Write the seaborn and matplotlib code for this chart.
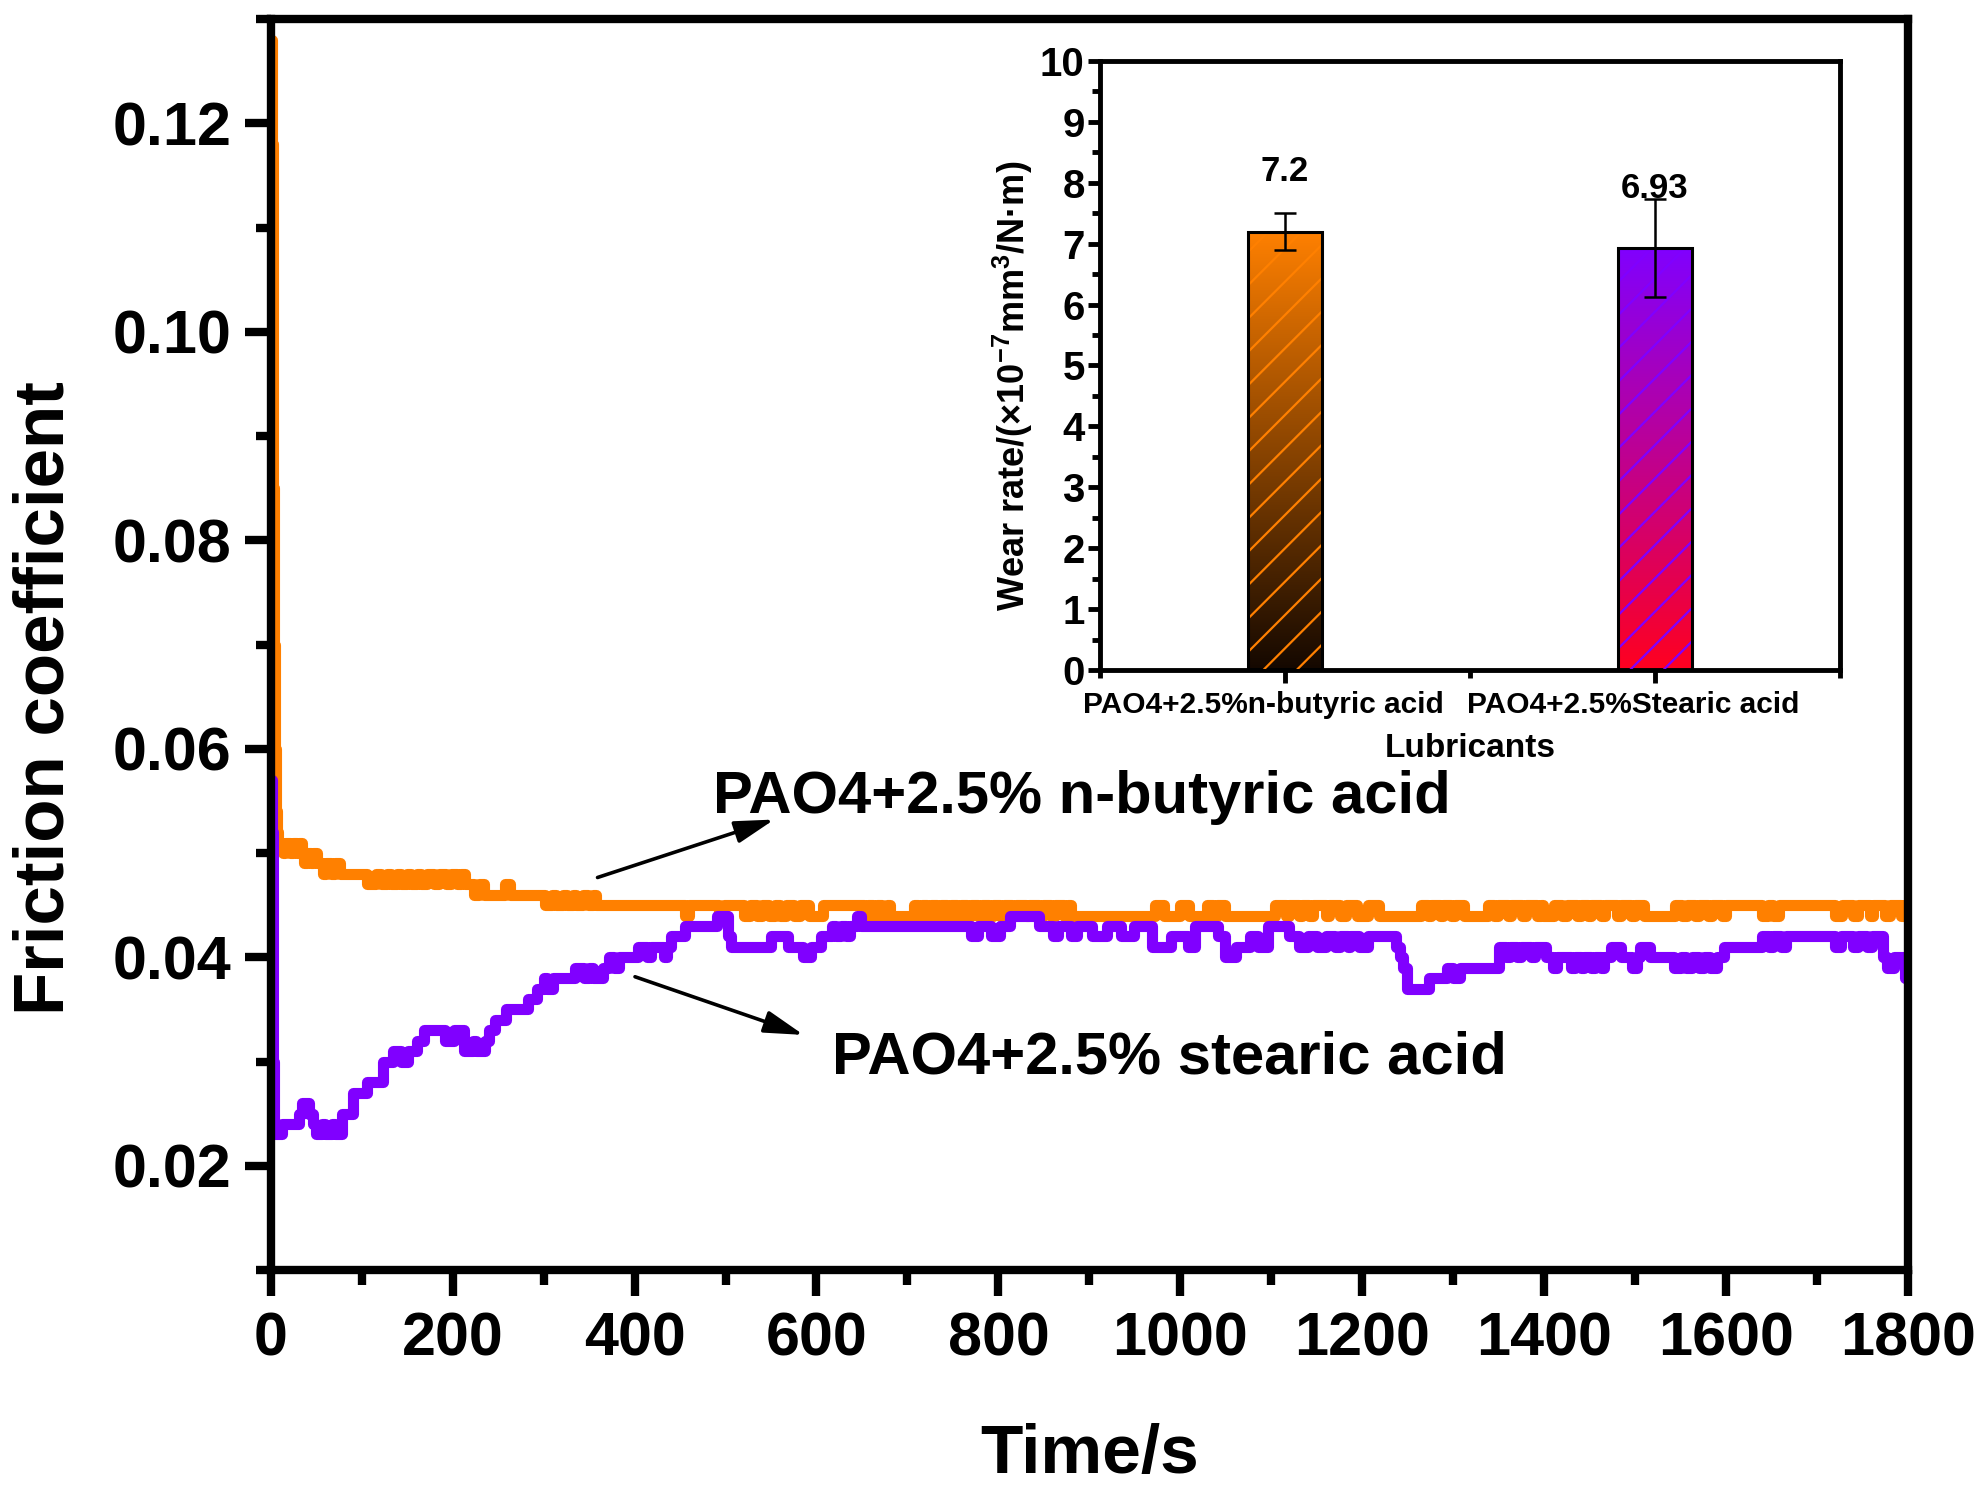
import numpy as np
import pandas as pd
import matplotlib
matplotlib.use("Agg")
import matplotlib.pyplot as plt
import seaborn as sns
from matplotlib.patches import Rectangle
from matplotlib.transforms import ScaledTranslation
from matplotlib.ticker import MultipleLocator, FixedLocator, FormatStrFormatter

# ---------------- data ----------------
# friction coefficient steps (time/s, value), PAO4 + 2.5% n-butyric acid
nbutyric_steps = [
    (0, .128), (1, .118), (2, .100), (3, .085), (4, .070), (5, .060), (6, .054), (7, .052), (8, .051),
    (13, .050), (16, .051), (21, .050), (24, .051), (29, .050), (31, .051), (34, .050), (37, .049),
    (40, .050), (44, .049), (47, .050), (51, .049), (57, .048), (61, .049), (66, .048), (71, .049),
    (76, .048), (106, .047), (116, .048), (121, .047), (128, .048), (132, .047), (139, .048), (143, .047),
    (150, .048), (154, .047), (161, .048), (165, .047), (172, .048), (180, .047), (185, .048), (193, .047),
    (198, .048), (205, .047), (209, .048), (214, .047), (223, .046), (229, .047), (235, .046), (258, .047),
    (263, .046), (302, .045), (309, .046), (314, .045), (321, .046), (326, .045), (332, .046), (336, .045),
    (343, .046), (349, .045), (354, .046), (358, .045), (455, .044), (460, .045), (493, .044), (498, .045),
    (520, .044), (527, .045), (535, .044), (540, .045), (548, .044), (554, .045), (560, .044), (566, .045),
    (575, .044), (582, .045), (592, .044), (607, .045), (652, .044), (657, .045), (662, .044), (667, .045),
    (672, .044), (677, .045), (681, .044), (707, .045), (712, .044), (716, .045), (722, .044), (726, .045),
    (733, .044), (737, .045), (744, .044), (748, .045), (755, .044), (759, .045), (766, .044), (770, .045),
    (778, .044), (782, .045), (790, .044), (794, .045), (802, .044), (806, .045), (815, .044), (819, .045),
    (830, .044), (834, .045), (845, .044), (849, .045), (858, .044), (862, .045), (872, .044), (876, .045),
    (880, .044), (972, .045), (982, .044), (1000, .045), (1010, .044), (1029, .045), (1036, .044),
    (1040, .045), (1049, .044), (1104, .045), (1116, .044), (1120, .045), (1130, .044), (1134, .045),
    (1142, .044), (1146, .045), (1160, .044), (1164, .045), (1176, .044), (1182, .045), (1194, .044),
    (1206, .045), (1218, .044), (1265, .045), (1272, .044), (1276, .045), (1285, .044), (1289, .045),
    (1298, .044), (1302, .045), (1312, .044), (1338, .045), (1345, .044), (1349, .045), (1360, .044),
    (1364, .045), (1376, .044), (1380, .045), (1392, .044), (1396, .045), (1399, .044), (1411, .045),
    (1420, .044), (1425, .045), (1436, .044), (1440, .045), (1448, .044), (1452, .045), (1462, .044),
    (1467, .045), (1480, .044), (1485, .045), (1496, .044), (1500, .045), (1510, .044), (1544, .045),
    (1552, .044), (1557, .045), (1566, .044), (1570, .045), (1580, .044), (1585, .045), (1596, .044),
    (1600, .045), (1639, .044), (1646, .045), (1652, .044), (1658, .045), (1720, .044), (1727, .045),
    (1740, .044), (1745, .045), (1758, .044), (1762, .045), (1775, .044), (1780, .045), (1792, .044),
    (1796, .045), (1800, .045),
]

# friction coefficient steps (time/s, value), PAO4 + 2.5% stearic acid
stearic_steps = [
    (0, .057), (1, .052), (2, .042), (3, .030), (4, .024), (5, .023), (12, .024), (31, .025), (34, .026),
    (42, .025), (47, .024), (50, .023), (56, .024), (60, .023), (67, .024), (71, .023), (78, .025),
    (90, .027), (106, .028), (124, .030), (135, .031), (143, .030), (151, .031), (161, .032), (169, .033),
    (192, .032), (202, .033), (212, .031), (222, .032), (226, .031), (236, .032), (240, .033), (247, .034),
    (259, .035), (283, .036), (293, .037), (300, .038), (304, .037), (310, .038), (334, .039), (344, .038),
    (350, .039), (354, .038), (365, .039), (372, .040), (377, .039), (383, .040), (404, .041), (414, .040),
    (418, .041), (432, .040), (436, .041), (440, .042), (456, .043), (491, .044), (503, .042), (506, .041),
    (550, .042), (569, .041), (585, .040), (594, .041), (605, .042), (617, .043), (622, .042), (627, .043),
    (632, .042), (637, .043), (645, .044), (649, .043), (770, .042), (778, .043), (792, .042), (802, .043),
    (813, .044), (845, .043), (860, .042), (866, .043), (880, .042), (886, .043), (903, .042), (919, .043),
    (935, .042), (949, .043), (969, .041), (990, .042), (1008, .041), (1016, .043), (1041, .042),
    (1049, .040), (1061, .041), (1077, .042), (1085, .041), (1096, .043), (1120, .042), (1130, .041),
    (1140, .042), (1150, .041), (1160, .042), (1170, .041), (1176, .042), (1184, .041), (1187, .042),
    (1196, .041), (1206, .042), (1237, .041), (1241, .040), (1245, .039), (1249, .037), (1273, .038),
    (1293, .039), (1300, .038), (1308, .039), (1350, .041), (1358, .040), (1362, .041), (1370, .040),
    (1375, .041), (1385, .040), (1390, .041), (1402, .040), (1410, .039), (1414, .040), (1430, .039),
    (1434, .040), (1440, .039), (1444, .040), (1452, .039), (1456, .040), (1462, .039), (1466, .040),
    (1473, .041), (1484, .040), (1497, .039), (1502, .040), (1505, .041), (1516, .040), (1543, .039),
    (1550, .040), (1556, .039), (1563, .040), (1570, .039), (1576, .040), (1582, .039), (1590, .040),
    (1598, .041), (1639, .042), (1647, .041), (1652, .042), (1660, .041), (1666, .042), (1720, .041),
    (1726, .042), (1740, .041), (1745, .042), (1755, .041), (1760, .042), (1773, .040), (1777, .039),
    (1785, .040), (1797, .038), (1800, .038),
]

x_ticks = [0, 200, 400, 600, 800, 1000, 1200, 1400, 1600, 1800]
y_ticks = [0.02, 0.04, 0.06, 0.08, 0.10, 0.12]

# inset bar chart
lubricants = ["PAO4+2.5%n-butyric acid", "PAO4+2.5%Stearic acid"]
wear_rate = [7.2, 6.93]
wear_err = [0.3, 0.8]
wear_labels = ["7.2", "6.93"]

# ---------------- style ----------------
sns.set_style("ticks")
plt.rcParams["font.family"] = ["Liberation Sans", "DejaVu Sans"]
plt.rcParams["font.weight"] = "bold"
plt.rcParams["axes.labelweight"] = "bold"
plt.rcParams["text.color"] = "black"
plt.rcParams["axes.labelcolor"] = "black"
plt.rcParams["xtick.color"] = "black"
plt.rcParams["ytick.color"] = "black"
plt.rcParams["xtick.labelcolor"] = "black"
plt.rcParams["ytick.labelcolor"] = "black"
plt.rcParams["mathtext.fontset"] = "custom"
plt.rcParams["mathtext.rm"] = "Liberation Sans:bold"
plt.rcParams["mathtext.bf"] = "Liberation Sans:bold"
plt.rcParams["mathtext.it"] = "Liberation Sans:bold"
plt.rcParams["mathtext.default"] = "bf"
plt.rcParams["hatch.linewidth"] = 1.6

ORANGE = "#FF8000"
PURPLE = "#8000FF"

fig = plt.figure(figsize=(19.83, 14.92), dpi=100)
ax = fig.add_axes([0.13651, 0.14879, 0.82567, 0.83847])

df_nb = pd.DataFrame(nbutyric_steps, columns=["t", "cof"])
df_st = pd.DataFrame(stearic_steps, columns=["t", "cof"])
sns.lineplot(data=df_nb, x="t", y="cof", ax=ax, color=ORANGE, linewidth=8, estimator=None,
             drawstyle="steps-post", solid_joinstyle="round", solid_capstyle="round")
sns.lineplot(data=df_st, x="t", y="cof", ax=ax, color=PURPLE, linewidth=8, estimator=None,
             drawstyle="steps-post", solid_joinstyle="round", solid_capstyle="round")

ax.set_xlim(0, 1800)
ax.set_ylim(0.01, 0.13)
ax.xaxis.set_major_locator(FixedLocator(x_ticks))
ax.xaxis.set_minor_locator(MultipleLocator(100))
ax.yaxis.set_major_locator(FixedLocator(y_ticks))
ax.yaxis.set_minor_locator(FixedLocator([0.01, 0.03, 0.05, 0.07, 0.09, 0.11, 0.13]))
ax.yaxis.set_major_formatter(FormatStrFormatter("%.2f"))
for s in ax.spines.values():
    s.set_linewidth(6)
    s.set_color("black")
ax.tick_params(axis="both", which="major", direction="out", length=19, width=6,
               labelsize=44, color="black", labelcolor="black")
ax.tick_params(axis="both", which="minor", direction="out", length=11, width=6, color="black")
ax.tick_params(axis="x", which="major", pad=11)
ax.tick_params(axis="y", which="major", pad=9)
for lab in ax.get_xticklabels() + ax.get_yticklabels():
    lab.set_fontweight("bold")

ax.set_xlabel("Time/s", fontsize=50, fontweight="bold", color="black")
ax.set_ylabel("Friction coefficient", fontsize=51, fontweight="bold", color="black")
ax.xaxis.set_label_coords(0.5004, -0.122)
ax.yaxis.set_label_coords(-0.1375, 0.457)
ax.yaxis.label.set_verticalalignment("center")

# annotations
arrow_kw = dict(arrowstyle="-|>,head_length=0.6,head_width=0.17", color="black", lw=2.6,
                mutation_scale=40, shrinkA=0, shrinkB=0)
ax.annotate("", xy=(553.6, 0.05321), xytext=(359.3, 0.04765), arrowprops=arrow_kw)
ax.annotate("", xy=(585.9, 0.03255), xytext=(400.5, 0.03813), arrowprops=arrow_kw)
ax.text(486, 0.05384, "PAO4+2.5% n-butyric acid", fontsize=43, fontweight="bold",
        ha="left", va="baseline", color="black")
ax.text(617, 0.02881, "PAO4+2.5% stearic acid", fontsize=43, fontweight="bold",
        ha="left", va="baseline", color="black")

# ---------------- inset ----------------
axin = fig.add_axes([0.55471, 0.55094, 0.37317, 0.40818])
axin.set_facecolor("white")
sns.barplot(x=lubricants, y=wear_rate, hue=lubricants, palette=[ORANGE, PURPLE], width=0.2,
            saturation=1, edgecolor="black", linewidth=2.2, legend=False, errorbar=None, ax=axin)

grad_top = [np.array([255, 128, 0]) / 255, np.array([128, 0, 255]) / 255]
grad_bot = [np.array([20, 8, 0]) / 255, np.array([255, 0, 32]) / 255]
hatch_cols = [ORANGE, PURPLE]
bars = sorted(axin.patches, key=lambda p: p.get_x())
centers = []
for i, p in enumerate(bars):
    x0, y0, w, h = p.get_x(), p.get_y(), p.get_width(), p.get_height()
    centers.append(x0 + w / 2)
    g = np.linspace(0, 1, 256)[:, None, None]
    img = grad_top[i][None, None, :] * (1 - g) + grad_bot[i][None, None, :] * g
    im = axin.imshow(img, extent=[x0, x0 + w, y0, y0 + h], origin="upper", aspect="auto",
                     interpolation="bilinear", zorder=2)
    im.set_clip_path(p)
    axin.add_patch(Rectangle((x0, y0), w, h, facecolor="none", edgecolor=hatch_cols[i],
                             linewidth=0, hatch="/", zorder=3))
    p.set_facecolor("none")
    p.set_zorder(4)

axin.errorbar(centers, wear_rate, yerr=wear_err, fmt="none", ecolor="black", elinewidth=1.8,
              capsize=8, capthick=1.8, zorder=5)
for c, v, lab in zip(centers, wear_rate, wear_labels):
    axin.text(c, v + 0.98, lab, ha="center", va="center", fontsize=25, fontweight="bold",
              color="black")

axin.set_xlim(-0.5, 1.5)
axin.set_ylim(0, 10)
axin.yaxis.set_major_locator(MultipleLocator(1))
axin.yaxis.set_minor_locator(MultipleLocator(0.5))
axin.set_xticks([0, 1])
axin.set_xticklabels(lubricants, fontsize=21.5, fontweight="bold")
axin.xaxis.set_minor_locator(FixedLocator([-0.5, 0.5, 1.5]))
for s in axin.spines.values():
    s.set_linewidth(3.5)
    s.set_color("black")
axin.tick_params(axis="both", which="major", direction="out", length=9, width=3.5, color="black",
                 labelcolor="black")
axin.tick_params(axis="both", which="minor", direction="out", length=6, width=3.5, color="black")
axin.tick_params(axis="y", which="major", labelsize=29, pad=2)
axin.tick_params(axis="x", which="major", pad=6)
for lab in axin.get_yticklabels():
    lab.set_fontweight("bold")
# category labels sit slightly left of the bar centres in the original
shift = ScaledTranslation(-0.22, 0, fig.dpi_scale_trans)
for tk in axin.xaxis.get_major_ticks():
    tk.label1.set_transform(tk.label1.get_transform() + shift)
axin.set_xlabel("Lubricants", fontsize=24, fontweight="bold", color="black")
axin.set_ylabel("Wear rate/(×10$^{-7}$mm$^{3}$/N·m)", fontsize=26, fontweight="bold",
                color="black")
axin.xaxis.set_label_coords(0.5, -0.104)
axin.yaxis.set_label_coords(-0.1176, 0.466)
axin.yaxis.label.set_verticalalignment("center")

fig.savefig("out.png", dpi=100, facecolor="white")
